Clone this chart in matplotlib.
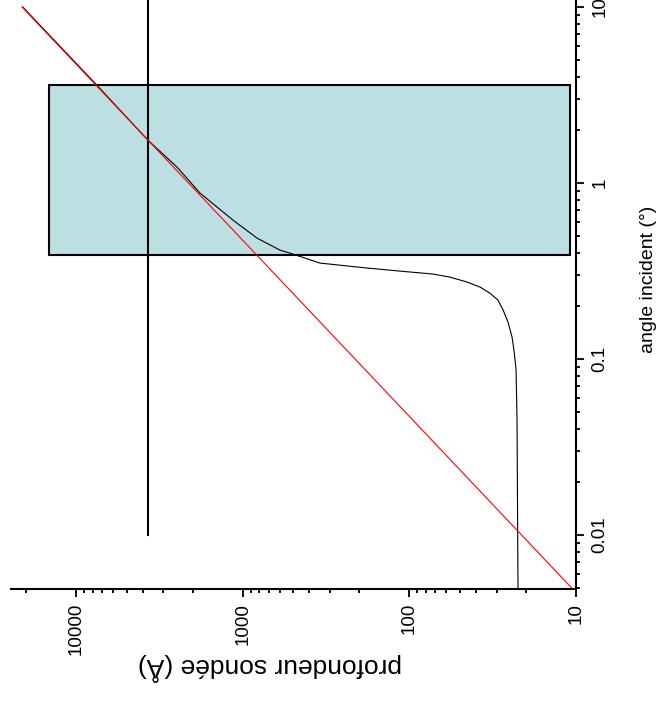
import numpy as np
import matplotlib
matplotlib.use('Agg')
import matplotlib.pyplot as plt
from matplotlib import font_manager
from matplotlib.patches import Rectangle
from matplotlib.ticker import LogLocator, NullFormatter

# courbe de profondeur sondée (angle en degrés, profondeur en Å)
curve_angle = [0.005, 0.045, 0.087, 0.1096, 0.133, 0.162, 0.19, 0.216, 0.237,
               0.2565, 0.274, 0.292, 0.304, 0.316, 0.329, 0.351, 0.395, 0.416,
               0.487, 0.616, 0.877, 1.233, 1.754, 3.6, 10.0]
curve_depth = [22.3, 22.6, 22.9, 23.5, 24.2, 25.6, 27.4, 29.4, 32.9,
               37.7, 45.2, 57.1, 72.3, 114, 180, 345, 501, 600,
               824, 1148, 1811, 2490, 3724, 7540, 21000]

# droite rouge
line_angle = [0.005, 10.0]
line_depth = [10.6, 21200]

# trait noir à profondeur constante
level_depth = 3724
level_angle = [0.01, 12.0]

# zone colorée
box_depth = [10.9, 14600]
box_angle = [0.39, 3.6]

depth_ticks = [10, 100, 1000, 10000]
depth_labels = ['10', '100', '1000', '10000']
angle_ticks = [0.01, 0.1, 1, 10]
angle_labels = ['0.01', '0.1', '1', '10']

names = {f.name for f in font_manager.fontManager.ttflist}
if 'Liberation Sans Narrow' in names:
    tick_font, tick_size = 'Liberation Sans Narrow', 15
else:
    tick_font, tick_size = 'Liberation Sans', 13.5
plt.rcParams['font.family'] = ['Liberation Sans', 'DejaVu Sans']

fig = plt.figure(figsize=(6.6, 7.04), dpi=100)
ax = fig.add_axes([11 / 660, 115 / 704, 565 / 660, 589 / 704])

ax.add_patch(Rectangle((box_depth[0], box_angle[0]), box_depth[1] - box_depth[0],
                       box_angle[1] - box_angle[0], facecolor='#bbdfe3',
                       edgecolor='black', linewidth=1.5, zorder=1))
ax.plot([level_depth, level_depth], level_angle, color='black', lw=1.5, zorder=2)
ax.plot(curve_depth, curve_angle, color='black', lw=0.8, zorder=3)
ax.plot(line_depth, line_angle, color='red', lw=0.8, zorder=4)

ax.set_xscale('log')
ax.set_yscale('log')
ax.set_xlim(24700, 10)
ax.set_ylim(0.00494, 10.96)

ax.spines['top'].set_visible(False)
ax.spines['left'].set_visible(False)
ax.spines['bottom'].set_linewidth(1.5)
ax.spines['right'].set_linewidth(1.5)
ax.yaxis.tick_right()
ax.yaxis.set_label_position('right')

ax.set_xticks(depth_ticks, depth_labels)
ax.set_yticks(angle_ticks, angle_labels)
ax.xaxis.set_minor_locator(LogLocator(base=10, subs=range(2, 10)))
ax.yaxis.set_minor_locator(LogLocator(base=10, subs=range(2, 10)))
ax.xaxis.set_minor_formatter(NullFormatter())
ax.yaxis.set_minor_formatter(NullFormatter())
ax.tick_params(which='major', length=6, width=1.3, direction='out', pad=4)
ax.tick_params(which='minor', length=3, width=1.3, direction='out')
ax.tick_params(axis='y', which='major', pad=5)

for lab in ax.get_xticklabels():
    lab.set_rotation(90)
    lab.set_fontfamily(tick_font)
    lab.set_fontsize(tick_size)
for lab in ax.get_yticklabels():
    lab.set_rotation(90)
    lab.set_va('center')
    lab.set_fontfamily(tick_font)
    lab.set_fontsize(tick_size)

ax.set_xlabel('profondeur sondée (Å)', fontsize=19, rotation=180, va='center')
ax.xaxis.set_label_coords(0.458, -0.132)
ax.set_ylabel('angle incident (°)', fontsize=14, rotation=90, va='center', ha='center')
ax.yaxis.set_label_coords(1.129, 0.525)

fig.savefig('out.png', dpi=100)
